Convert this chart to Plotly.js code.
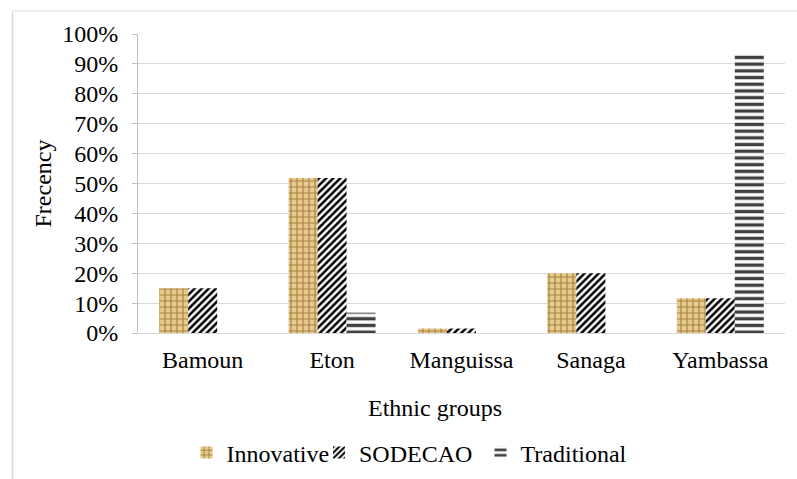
<!DOCTYPE html>
<html>
<head>
<meta charset="utf-8">
<script src="https://cdn.plot.ly/plotly-3.0.1.min.js"></script>
<style>html,body{margin:0;padding:0;background:#fff;}#chart{width:797px;height:479px;}</style>
</head>
<body>
<div id="chart"></div>
<script>
const categories = ["Bamoun", "Eton", "Manguissa", "Sanaga", "Yambassa"];
const innovative = [0.15, 0.518, 0.015, 0.20, 0.116];
const sodecao = [0.15, 0.518, 0.015, 0.20, 0.116];
const traditional = [0, 0.068, 0, 0, 0.93];
const yTickVals = [0, 0.1, 0.2, 0.3, 0.4, 0.5, 0.6, 0.7, 0.8, 0.9, 1.0];
const yTickText = ["0%", "10%", "20%", "30%", "40%", "50%", "60%", "70%", "80%", "90%", "100%"];

const FONT = "Liberation Serif";
const FS = 24;

// plot area in pixels: x 138..785, y 34..333
const px = (x) => (x - 138) / 647;
const py = (y) => (333 - y) / 299;

const traces = [
  {
    type: "bar", name: "Innovative", x: categories, y: innovative, legend: "legend",
    marker: {color: "#e3c78a", line: {width: 0},
      pattern: {shape: "+", fgcolor: "#a98343", bgcolor: "#e6ca8e", size: 6, solidity: 0.35, fillmode: "replace"}}
  },
  {
    type: "bar", name: "SODECAO", x: categories, y: sodecao, legend: "legend2",
    marker: {color: "#ffffff", line: {width: 0},
      pattern: {shape: "/", fgcolor: "#000000", bgcolor: "#ffffff", size: 5, solidity: 0.5, fillmode: "replace"}}
  },
  {
    type: "bar", name: "Traditional", x: categories, y: traditional, legend: "legend3",
    marker: {color: "#ffffff", line: {width: 0},
      pattern: {shape: "-", fgcolor: "#404040", bgcolor: "#ffffff", size: 6.7, solidity: 0.5, fillmode: "replace"}}
  }
];

function leg(xpix) {
  return {orientation: "h", x: px(xpix), xanchor: "left", y: py(453), yanchor: "middle",
    font: {family: FONT, size: FS, color: "#000000"}, itemwidth: 30, bgcolor: "rgba(0,0,0,0)"};
}

const layout = {
  width: 797, height: 479,
  margin: {l: 138, r: 12, t: 34, b: 146, autoexpand: false},
  paper_bgcolor: "#ffffff", plot_bgcolor: "#ffffff",
  font: {family: FONT, size: FS, color: "#000000"},
  barmode: "group", bargap: 0.328, bargroupgap: 0,
  showlegend: true,
  legend: leg(186.5),
  legend2: leg(319),
  legend3: leg(480.5),
  xaxis: {
    type: "category", showgrid: false, showline: true, linecolor: "#d9d9d9", linewidth: 1,
    ticks: "", ticklabelstandoff: 5, tickfont: {family: FONT, size: FS, color: "#000000"}, zeroline: false
  },
  yaxis: {
    range: [0, 1], tickvals: yTickVals, ticktext: yTickText,
    showgrid: true, gridcolor: "#d9d9d9", gridwidth: 1,
    showline: true, linecolor: "#bfbfbf", linewidth: 1,
    ticks: "outside", ticklen: 5, tickcolor: "#bfbfbf", ticklabelstandoff: 9,
    tickfont: {family: FONT, size: FS, color: "#000000"}, zeroline: false
  },
  annotations: [
    {text: "Frecency", xref: "paper", yref: "paper", x: px(42), y: 0.5, xanchor: "center", yanchor: "middle",
      textangle: -90, showarrow: false, font: {family: FONT, size: FS, color: "#000000"}},
    {text: "Ethnic groups", xref: "paper", yref: "paper", x: px(435), y: py(408),
      xanchor: "center", yanchor: "middle", showarrow: false, font: {family: FONT, size: FS, color: "#000000"}}
  ],
  shapes: [
    {type: "line", xref: "paper", yref: "paper", x0: px(12.5), x1: px(800),
      y0: py(11), y1: py(11), line: {color: "#d9d9d9", width: 1}},
    {type: "line", xref: "paper", yref: "paper", x0: px(12.5), x1: px(12.5),
      y0: py(11), y1: py(485), line: {color: "#d9d9d9", width: 1.5}}
  ]
};

Plotly.newPlot("chart", traces, layout, {displayModeBar: false, staticPlot: true});
</script>
</body>
</html>
